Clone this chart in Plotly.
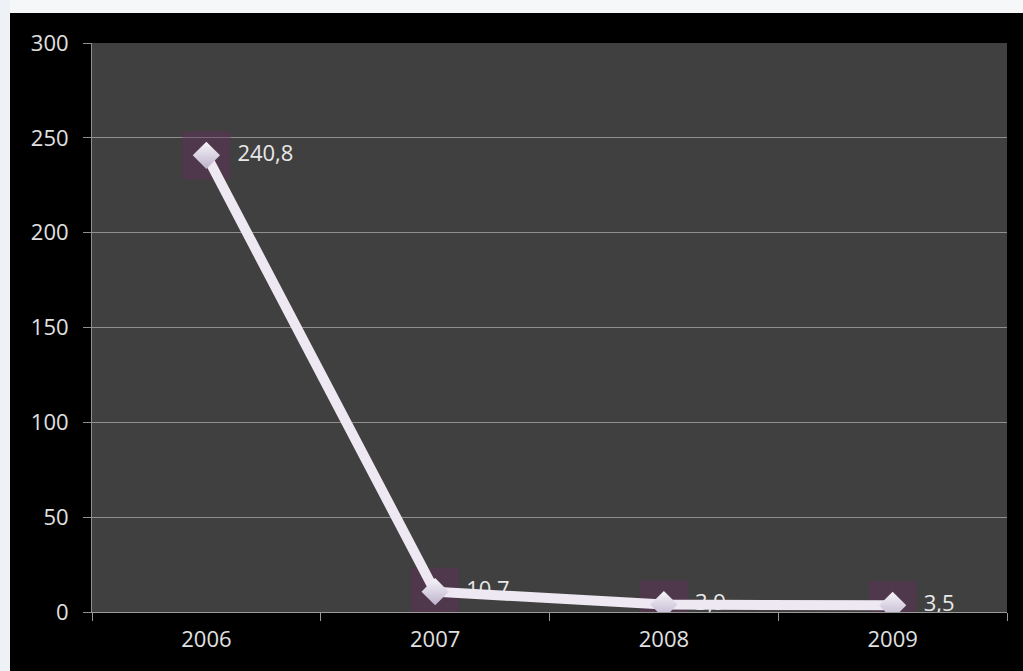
import plotly.graph_objects as go

years = ["2006", "2007", "2008", "2009"]
values = [240.8, 10.7, 3.9, 3.5]
y_ticks = [0, 50, 100, 150, 200, 250, 300]

W, H = 1023, 671
L, R, T, B = 92, 16, 43, 59
pw, ph = W - L - R, H - T - B


def px_x(p):
    return (p - L) / pw


def px_y(p):
    return (H - B - p) / ph


fig = go.Figure()

# translucent square behind each point, carrying the value labels
fig.add_trace(go.Scatter(
    x=years, y=values, mode="markers+text",
    marker=dict(symbol="square", size=48, color="rgba(100,45,90,0.42)",
                line=dict(width=0)),
    text=values, texttemplate="%{y:.1f}", textposition="middle right",
    textfont=dict(family="Open Sans", size=22, color="#e8e8e8"),
    hoverinfo="skip", showlegend=False,
))

# main series
fig.add_trace(go.Scatter(
    x=years, y=values, mode="lines+markers",
    line=dict(color="#eee8f2", width=10),
    marker=dict(symbol="diamond", size=21, color="#f7f5fa",
                gradient=dict(type="vertical", color="#bdb2cc"),
                line=dict(width=0)),
    showlegend=False,
))

axis_font = dict(family="Open Sans", size=22, color="#e0e0e0")

fig.update_layout(
    width=W, height=H,
    margin=dict(l=L, r=R, t=T, b=B),
    paper_bgcolor="#000000",
    plot_bgcolor="#404040",
    separators=",.",
    xaxis=dict(
        type="category", range=[-0.5, 3.5],
        showgrid=False, showline=True, linecolor="#9a9a9a", linewidth=1,
        ticks="outside", tickcolor="#9a9a9a", ticklen=8,
        tickson="boundaries", ticklabelstandoff=8,
        tickfont=axis_font, zeroline=False,
    ),
    yaxis=dict(
        range=[0, 300], tickvals=y_ticks,
        showgrid=True, gridcolor="#8f8f8f", gridwidth=1,
        showline=True, linecolor="#8f8f8f", linewidth=1,
        ticks="outside", tickcolor="#8f8f8f", ticklen=8,
        ticklabelstandoff=10,
        tickfont=axis_font, zeroline=False,
    ),
    shapes=[
        dict(type="rect", xref="paper", yref="paper",
             x0=px_x(0), x1=px_x(W), y0=px_y(13), y1=px_y(0),
             fillcolor="#f6f7f9", line=dict(width=0), layer="below"),
        dict(type="rect", xref="paper", yref="paper",
             x0=px_x(0), x1=px_x(10), y0=px_y(H), y1=px_y(0),
             fillcolor="#eef1f6", line=dict(width=0), layer="below"),
    ],
)

fig.write_html("out.html")
